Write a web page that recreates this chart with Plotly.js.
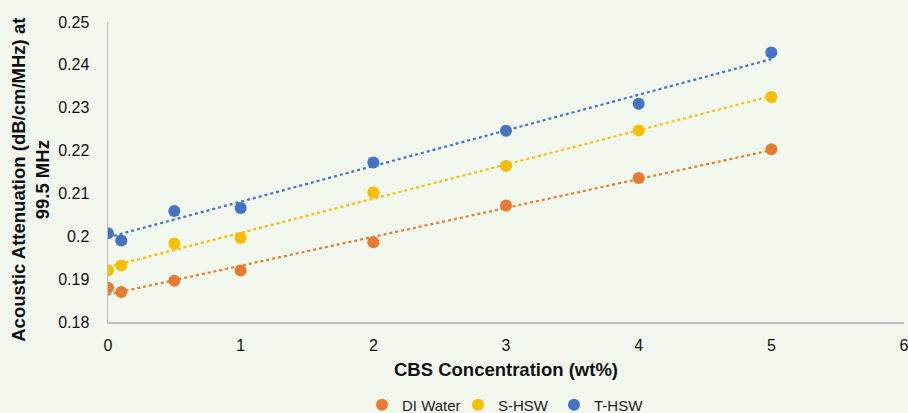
<!DOCTYPE html>
<html>
<head>
<meta charset="utf-8">
<script src="https://cdn.plot.ly/plotly-3.0.1.min.js"></script>
<style>
  html, body { margin: 0; padding: 0; background: #F3F8EE; }
  #chart { width: 908px; height: 413px; }
</style>
</head>
<body>
<div id="chart"></div>
<script>
// CBS concentration (wt%)
var concentration = [0, 0.1, 0.5, 1, 2, 3, 4, 5];
// Acoustic attenuation (dB/cm/MHz) at 99.5 MHz
var diWater = [0.1880, 0.1870, 0.1896, 0.1920, 0.1986, 0.2072, 0.2136, 0.2203];
var sHSW    = [0.1921, 0.1932, 0.1983, 0.1996, 0.2102, 0.2164, 0.2247, 0.2325];
var tHSW    = [0.2007, 0.1990, 0.2059, 0.2066, 0.2172, 0.2246, 0.2309, 0.2429];
var seriesNames = ["DI Water", "S-HSW", "T-HSW"];
var xTicks = [0, 1, 2, 3, 4, 5, 6];
var yTicks = [0.18, 0.19, 0.2, 0.21, 0.22, 0.23, 0.24, 0.25];

var colors = ["#E87B30", "#F7BF00", "#4472C4"];
var allSeries = [diWater, sHSW, tHSW];

// Linear least-squares trendline (as in the spreadsheet's linear trendline)
function fit(xs, ys) {
  var n = xs.length, sx = 0, sy = 0, sxx = 0, sxy = 0;
  for (var i = 0; i < n; i++) { sx += xs[i]; sy += ys[i]; sxx += xs[i]*xs[i]; sxy += xs[i]*ys[i]; }
  var m = (n*sxy - sx*sy) / (n*sxx - sx*sx);
  var b = (sy - m*sx) / n;
  return { m: m, b: b };
}

var traces = [];
allSeries.forEach(function (ys, k) {
  var f = fit(concentration, ys);
  var x0 = concentration[0], x1 = concentration[concentration.length - 1];
  traces.push({
    x: [x0, x1], y: [f.m*x0 + f.b, f.m*x1 + f.b],
    mode: "lines", type: "scatter", showlegend: false, hoverinfo: "skip",
    line: { color: colors[k], width: 2.2, dash: "dot" }
  });
});
allSeries.forEach(function (ys, k) {
  traces.push({
    x: concentration, y: ys, name: seriesNames[k],
    mode: "markers", type: "scatter",
    marker: { color: colors[k], size: 12 }
  });
});

var layout = {
  width: 908, height: 413,
  paper_bgcolor: "#F3F8EE", plot_bgcolor: "#F3F8EE",
  margin: { l: 108, r: 4, t: 22, b: 91, autoexpand: false },
  font: { family: "Liberation Sans, Arial, sans-serif", color: "#111111", size: 16 },
  showlegend: true,
  legend: {
    orientation: "h", x: 0.5, xanchor: "center", y: -0.277, yanchor: "middle",
    font: { size: 15, color: "#222222" }, itemwidth: 30, tracegroupgap: 0,
    entrywidth: 51, entrywidthmode: "pixels",
    bgcolor: "rgba(0,0,0,0)", borderwidth: 0
  },
  xaxis: {
    range: [0, 6], tickvals: xTicks, ticktext: xTicks.map(String),
    showgrid: false, zeroline: false, showline: true, linecolor: "#BFBFBF", linewidth: 1.5,
    ticks: "", tickfont: { size: 16 }, ticklabelstandoff: 8, ticklabeloverflow: "allow",
    title: { text: "<b>CBS Concentration (wt%)</b>", font: { size: 18.5 }, standoff: 10 }
  },
  yaxis: {
    range: [0.18, 0.25], tickvals: yTicks, ticktext: yTicks.map(String),
    showgrid: false, zeroline: false, showline: true, linecolor: "#BFBFBF", linewidth: 1.5,
    ticks: "", tickfont: { size: 16 }, ticklabelstandoff: 14,
    title: { text: "<b>Acoustic Attenuation (dB/cm/MHz) at&nbsp;&nbsp;&nbsp;<br>99.5 MHz&nbsp;&nbsp;&nbsp;</b>", font: { size: 18.5 }, standoff: 3 }
  }
};

Plotly.newPlot("chart", traces, layout, { displayModeBar: false, staticPlot: true });
</script>
</body>
</html>
